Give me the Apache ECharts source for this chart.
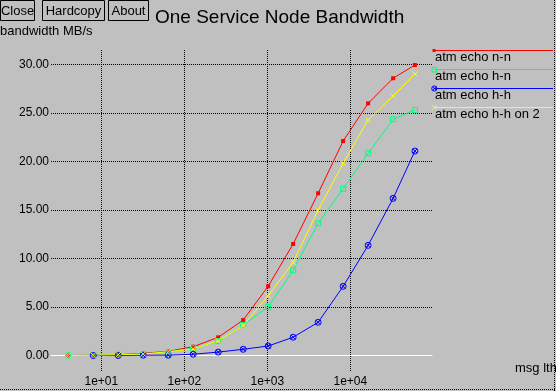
<!DOCTYPE html>
<html>
<head>
<meta charset="utf-8">
<script src="https://cdn.jsdelivr.net/npm/echarts@6/dist/echarts.min.js"></script>
<style>
html,body{margin:0;padding:0;background:#c0c0c0;}
#chart{width:556px;height:391px;}
</style>
</head>
<body>
<div id="chart"></div>
<script>
// message lengths (bytes)
var msgLengths = [4, 8, 16, 32, 64, 128, 256, 512, 1024, 2048, 4096, 8192, 16384, 32768, 60000];
// bandwidth MB/s
var echoNN  = [0.02, 0.05, 0.10, 0.25, 0.45, 0.93, 1.89, 3.67, 7.15, 11.50, 16.72, 22.10, 25.98, 28.56, 29.93];
var echoHN  = [0.02, 0.05, 0.10, 0.18, 0.40, 0.76, 1.51, 3.16, 5.02, 8.79, 13.63, 17.18, 20.84, 24.34, 25.30];
var echoHH  = [null, 0.02, 0.02, 0.05, 0.05, 0.15, 0.37, 0.66, 1.00, 1.90, 3.44, 7.14, 11.36, 16.20, 21.07];
var echoHH2 = [0.02, 0.05, 0.10, 0.17, 0.41, 0.69, 1.55, 3.10, 6.18, 9.61, 15.00, 19.80, 24.27, 26.74, 29.00];
var seriesNames = ['atm echo n-n', 'atm echo h-n', 'atm echo h-h', 'atm echo h-h on 2'];
var yTicks = [0, 5, 10, 15, 20, 25, 30];

var FONT = '"Liberation Sans", Arial, Helvetica, sans-serif';
var RED = '#ff0000', GREEN = '#00ff7f', BLUE = '#0000ff', YELLOW = '#ffff00';

function pairs(ys) {
  var out = [];
  for (var i = 0; i < msgLengths.length; i++) {
    if (ys[i] !== null) out.push([msgLengths[i], ys[i]]);
  }
  return out;
}

var xMin = 2.477, xMax = 96400;
var chart = echarts.init(document.getElementById('chart'), null, {renderer: 'canvas'});

var crossPath = 'path://M0,0L10,10M10,0L0,10';
var circXPath = 'path://M0,5A5,5 0 1,1 10,5A5,5 0 1,1 0,5ZM1.5,1.5L8.5,8.5M8.5,1.5L1.5,8.5';

function btn(x, w, label) {
  return [
    {type: 'rect', shape: {x: x, y: 0.5, width: w, height: 20}, style: {fill: 'none', stroke: '#000', lineWidth: 1}},
    {type: 'text', x: x + w / 2, y: 11, style: {text: label, font: '13px ' + FONT, fill: '#000', align: 'center', verticalAlign: 'middle'}}
  ];
}

var legendY = [50.5, 69.5, 88.5, 107.5];
var legendColors = [RED, GREEN, BLUE, YELLOW];
var graphics = [];
graphics = graphics.concat(btn(0.5, 34, 'Close'), btn(42.5, 62, 'Hardcopy'), btn(108.5, 40, 'About'));
graphics.push({type: 'text', x: 155, y: 17.5, style: {text: 'One Service Node Bandwidth', font: '19px ' + FONT, fill: '#000', align: 'left', verticalAlign: 'middle'}});
graphics.push({type: 'text', x: 0, y: 31, style: {text: 'bandwidth MB/s', font: '13px ' + FONT, fill: '#000', align: 'left', verticalAlign: 'middle'}});
graphics.push({type: 'text', x: 515, y: 368.5, style: {text: 'msg lth', font: '13px ' + FONT, fill: '#000', align: 'left', verticalAlign: 'middle'}});
for (var k = 0; k < 4; k++) {
  graphics.push({type: 'line', shape: {x1: 434, y1: legendY[k], x2: 553, y2: legendY[k]}, style: {stroke: legendColors[k], lineWidth: 1}});
  graphics.push({type: 'text', x: 435, y: legendY[k] + 6.5, style: {text: seriesNames[k], font: '13px ' + FONT, fill: '#000', align: 'left', verticalAlign: 'middle'}});
}
// legend markers
graphics.push({type: 'rect', shape: {x: 432.5, y: 49, width: 3, height: 3}, style: {fill: RED}});
graphics.push({type: 'rect', shape: {x: 432, y: 67.5, width: 4.5, height: 4.5}, style: {fill: 'none', stroke: GREEN, lineWidth: 1}});
graphics.push({type: 'circle', shape: {cx: 434.3, cy: 88.5, r: 2.6}, style: {fill: 'none', stroke: BLUE, lineWidth: 1}});
graphics.push({type: 'line', shape: {x1: 432.5, y1: 86.7, x2: 436.1, y2: 90.3}, style: {stroke: BLUE, lineWidth: 1}});
graphics.push({type: 'line', shape: {x1: 436.1, y1: 86.7, x2: 432.5, y2: 90.3}, style: {stroke: BLUE, lineWidth: 1}});
graphics.push({type: 'line', shape: {x1: 432, y1: 105.2, x2: 436.6, y2: 109.8}, style: {stroke: YELLOW, lineWidth: 1}});
graphics.push({type: 'line', shape: {x1: 436.6, y1: 105.2, x2: 432, y2: 109.8}, style: {stroke: YELLOW, lineWidth: 1}});
// window frame (dotted)
graphics.push({type: 'line', shape: {x1: 0, y1: 389.5, x2: 556, y2: 389.5}, style: {stroke: '#000', lineWidth: 1, lineDash: [1, 1]}});
graphics.push({type: 'line', shape: {x1: 554.5, y1: 0, x2: 554.5, y2: 391}, style: {stroke: '#000', lineWidth: 1, lineDash: [1, 1]}});

function expLabel(v) {
  var e = Math.round(Math.log10(v));
  var s = String(Math.abs(e));
  if (s.length < 2) s = '0' + s;
  return '1e' + (e < 0 ? '-' : '+') + s;
}

var option = {
  animation: false,
  backgroundColor: '#c0c0c0',
  grid: [
    {left: 51, width: 381, top: 64.3, height: 291.4, containLabel: false},
    {left: 51, width: 381, top: 50, height: 321, containLabel: false}
  ],
  xAxis: [
    {
      type: 'log', logBase: 10, gridIndex: 0, min: xMin, max: xMax,
      axisLine: {show: true, onZero: false, lineStyle: {color: '#ffffff', width: 1}},
      axisTick: {show: false}, axisLabel: {show: false}, splitLine: {show: false}
    },
    {
      type: 'log', logBase: 10, gridIndex: 1, min: xMin, max: xMax,
      axisLine: {show: false}, axisTick: {show: false},
      axisLabel: {
        show: true, showMinLabel: false, showMaxLabel: false, margin: 5,
        color: '#000', fontSize: 12, fontFamily: FONT,
        formatter: function (v) { return expLabel(v); }
      },
      splitLine: {show: true, showMinLine: false, showMaxLine: false, lineStyle: {color: '#000', width: 1, type: [1, 1]}}
    }
  ],
  yAxis: [
    {
      type: 'value', gridIndex: 0, min: yTicks[0], max: yTicks[yTicks.length - 1], interval: 5,
      axisLine: {show: false}, axisTick: {show: false},
      axisLabel: {color: '#000', fontSize: 12, fontFamily: FONT, margin: 2, formatter: function (v) { return v.toFixed(2); }},
      splitLine: {show: true, showMinLine: false, lineStyle: {color: '#000', width: 1, type: [1, 1]}}
    },
    {
      type: 'value', gridIndex: 1, min: 0, max: 1, show: false
    }
  ],
  series: [
    {
      name: seriesNames[0], type: 'line', xAxisIndex: 0, yAxisIndex: 0, data: pairs(echoNN),
      clip: false, symbol: 'rect', symbolSize: 4, showAllSymbol: true,
      itemStyle: {color: RED}, lineStyle: {color: RED, width: 1}
    },
    {
      name: seriesNames[1], type: 'line', xAxisIndex: 0, yAxisIndex: 0, data: pairs(echoHN),
      clip: false, symbol: 'rect', symbolSize: 5, showAllSymbol: true,
      itemStyle: {color: 'rgba(0,0,0,0)', borderColor: GREEN, borderWidth: 1}, lineStyle: {color: GREEN, width: 1}
    },
    {
      name: seriesNames[2], type: 'line', xAxisIndex: 0, yAxisIndex: 0, data: pairs(echoHH),
      clip: false, symbol: circXPath, symbolSize: 6, showAllSymbol: true,
      itemStyle: {color: 'rgba(0,0,0,0)', borderColor: BLUE, borderWidth: 1}, lineStyle: {color: BLUE, width: 1}
    },
    {
      name: seriesNames[3], type: 'line', xAxisIndex: 0, yAxisIndex: 0, data: pairs(echoHH2),
      clip: false, symbol: crossPath, symbolSize: 5, showAllSymbol: true,
      itemStyle: {color: 'rgba(0,0,0,0)', borderColor: YELLOW, borderWidth: 1}, lineStyle: {color: YELLOW, width: 1}
    }
  ],
  graphic: graphics
};
chart.setOption(option);
</script>
</body>
</html>
